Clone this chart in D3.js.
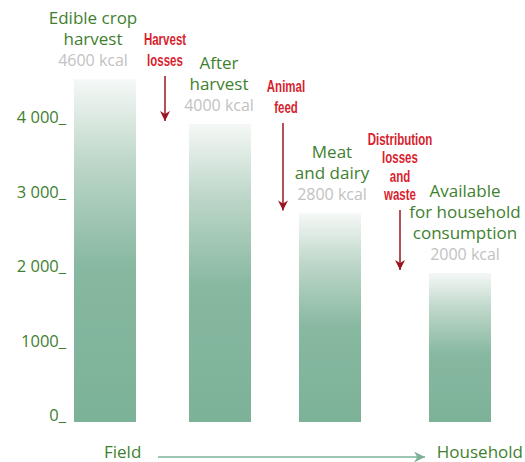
<!DOCTYPE html>
<html>
<head>
<meta charset="utf-8">
<script src="https://cdn.jsdelivr.net/npm/d3@7"></script>
<style>
  body { margin: 0; background: #fff; }
  text { font-family: "Open Sans", "Noto Sans", sans-serif; }
</style>
</head>
<body>
<svg id="chart" width="525" height="462"></svg>
<script>
// data
var stages = ["Edible crop harvest", "After harvest", "Meat and dairy", "Available for household consumption"];
var stageLines = [["Edible crop", "harvest"], ["After", "harvest"], ["Meat", "and dairy"], ["Available", "for household", "consumption"]];
var kcal = [4600, 4000, 2800, 2000];
var losses = [["Harvest", "losses"], ["Animal", "feed"], ["Distribution", "losses", "and", "waste"]];
var yTicks = [0, 1000, 2000, 3000, 4000];
var yTickLabels = ["0_", "1000_", "2 000_", "3 000_", "4 000_"];

var green = "#3f7f30", grey = "#c2c2c2", red = "#d81f30", darkRed = "#9a1622", barCol = "#7cb298";

var svg = d3.select("#chart");

// bars are not evenly spaced in the original, so an ordinal scale holds the left edges
var x = d3.scaleOrdinal()
    .domain(stages)
    .range([74, 189, 299, 429]);
var barW = 62;

// slight placement tweaks so the labels sit like the original
var labelShift = [-12, -1, 2, 5];

var y = d3.scaleLinear()
    .domain([0, 4000])
    .range([422, 124]);

var defs = svg.append("defs");
var grad = defs.append("linearGradient")
    .attr("id", "barGrad")
    .attr("x1", 0).attr("y1", 0).attr("x2", 0).attr("y2", 1);
grad.append("stop").attr("offset", 0).attr("stop-color", "#f5f8f6");
grad.append("stop").attr("offset", 0.25).attr("stop-color", "#bcd6c8");
grad.append("stop").attr("offset", 0.55).attr("stop-color", "#87b8a0");
grad.append("stop").attr("offset", 1).attr("stop-color", barCol);

var arrowRed = defs.append("marker")
    .attr("id", "arrowRed")
    .attr("viewBox", "0 0 10 10")
    .attr("refX", 10).attr("refY", 5)
    .attr("markerWidth", 10).attr("markerHeight", 10)
    .attr("markerUnits", "userSpaceOnUse")
    .attr("orient", "auto");
arrowRed.append("path").attr("d", "M0,0 L10,5 L0,10 L3,5 Z").attr("fill", darkRed);

var arrowGreen = defs.append("marker")
    .attr("id", "arrowGreen")
    .attr("viewBox", "0 0 10 10")
    .attr("refX", 10).attr("refY", 5)
    .attr("markerWidth", 13).attr("markerHeight", 11)
    .attr("markerUnits", "userSpaceOnUse")
    .attr("orient", "auto");
arrowGreen.append("path").attr("d", "M0,0 L10,5 L0,10 L3,5 Z").attr("fill", barCol);

// y axis labels
svg.append("g").selectAll("text")
    .data(yTicks)
    .enter()
    .append("text")
    .attr("x", 66)
    .attr("y", function (d) { return y(d) - 1; })
    .attr("text-anchor", "end")
    .style("font-size", "16.5px")
    .style("fill", green)
    .text(function (d, i) { return yTickLabels[i]; });

// bars
svg.append("g").selectAll("rect")
    .data(kcal)
    .enter()
    .append("rect")
    .attr("x", function (d, i) { return x(stages[i]); })
    .attr("y", function (d) { return y(d); })
    .attr("width", barW)
    .attr("height", function (d) { return y(0) - y(d); })
    .attr("fill", "url(#barGrad)");

// stage labels above bars
var lab = svg.append("g").selectAll("g")
    .data(kcal)
    .enter()
    .append("g")
    .attr("transform", function (d, i) {
        return "translate(" + (x(stages[i]) + barW / 2 + labelShift[i]) + "," + (y(d) - 13) + ")";
    });

lab.append("text")
    .attr("text-anchor", "middle")
    .style("font-size", "16px")
    .style("fill", grey)
    .text(function (d) { return d + " kcal"; });

lab.each(function (d, i) {
    var lines = stageLines[i];
    d3.select(this).selectAll(".stage")
        .data(lines)
        .enter()
        .append("text")
        .attr("class", "stage")
        .attr("text-anchor", "middle")
        .attr("y", function (t, j) { return -21 * (lines.length - j); })
        .style("font-size", "17px")
        .style("fill", green)
        .text(function (t) { return t; });
});

// loss labels and arrows between bars (condensed look by squeezing the text)
var lossX = [165, 283, 400];
losses.forEach(function (lines, i) {
    var cx = lossX[i];
    var arrowEnd = y(kcal[i + 1]) - 3;
    var lastBase = [66, 113, 200][i];
    var g = svg.append("g");
    g.selectAll("text")
        .data(lines)
        .enter()
        .append("text")
        .attr("transform", function (t, j) {
            var ty = lastBase - (i == 2 ? 18.5 : 21) * (lines.length - 1 - j);
            return "translate(" + (cx + (i == 1 ? 3 : 0)) + "," + ty + ") scale(0.72,1)";
        })
        .attr("text-anchor", "middle")
        .style("font-family", "'Liberation Sans', Arial, sans-serif")
        .style("font-size", "16px")
        .style("font-weight", "bold")
        .style("fill", red)
        .text(function (t) { return t; });
    g.append("line")
        .attr("x1", cx).attr("x2", cx)
        .attr("y1", lastBase + 10)
        .attr("y2", arrowEnd)
        .attr("stroke", darkRed)
        .attr("stroke-width", 1.5)
        .attr("marker-end", "url(#arrowRed)");
});

// bottom: Field -> Household
svg.append("text")
    .attr("x", 104).attr("y", 458)
    .style("font-size", "17px")
    .style("fill", green)
    .text("Field");
svg.append("text")
    .attr("x", 523).attr("y", 458)
    .attr("text-anchor", "end")
    .style("font-size", "17px")
    .style("fill", green)
    .text("Household");
svg.append("line")
    .attr("x1", 158).attr("x2", 425)
    .attr("y1", 457).attr("y2", 457)
    .attr("stroke", barCol)
    .attr("stroke-width", 1.5)
    .attr("marker-end", "url(#arrowGreen)");
</script>
</body>
</html>
